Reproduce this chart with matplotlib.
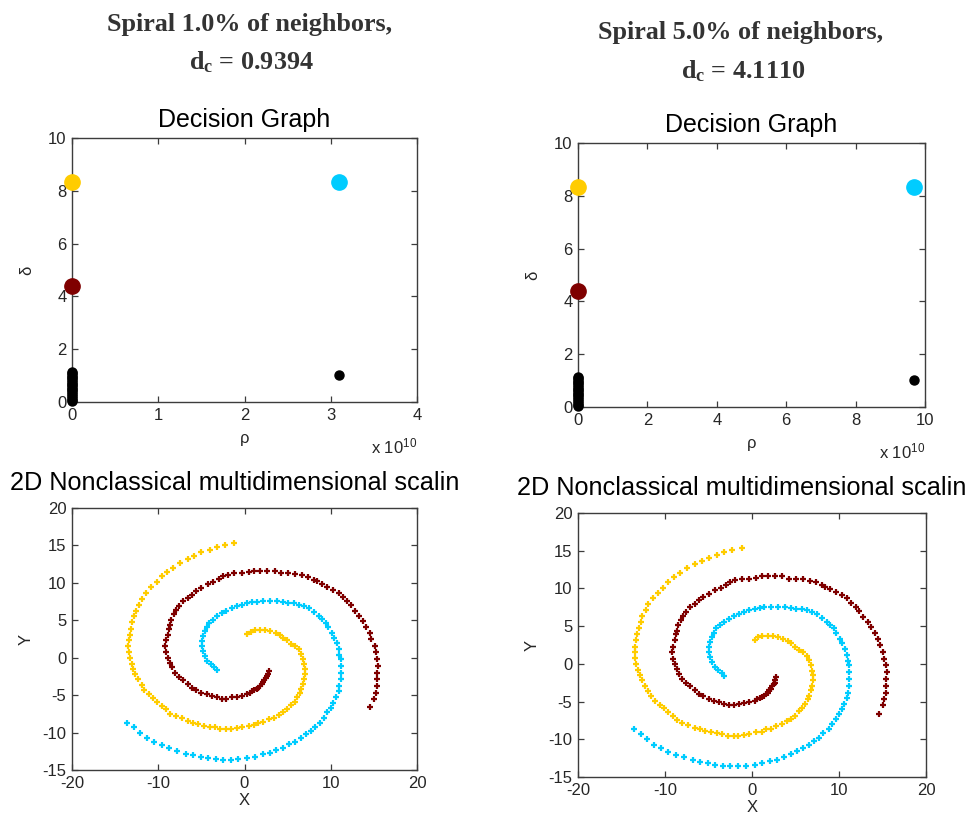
import matplotlib
matplotlib.use("Agg")
import matplotlib.pyplot as plt

plt.rcParams['mathtext.fontset'] = 'custom'
plt.rcParams['mathtext.bf'] = 'Liberation Serif:bold'
plt.rcParams['mathtext.rm'] = 'Liberation Sans'
plt.rcParams['mathtext.default'] = 'regular'
plt.rcParams['axes.unicode_minus'] = False

# colours of the three clusters
c_yellow = '#FFCC00'
c_cyan = '#00CCFF'
c_red = '#7F0000'

# decision graph: cluster centres (rho, delta)
rho_scale = 1e10
centre_delta = [8.35, 8.35, 4.40]              # yellow, cyan, maroon
centre_rho_1 = [0.0, 3.09e10, 0.0]
centre_rho_5 = [0.0, 9.68e10, 0.0]
centre_cols = [c_yellow, c_cyan, c_red]
# other points (black)
other_rho_1 = [0.0] * 18 + [3.09e10]
other_rho_5 = [0.0] * 18 + [9.68e10]
other_delta = [0.02, 0.08, 0.15, 0.21, 0.30, 0.36, 0.44, 0.50, 0.57,
               0.63, 0.70, 0.77, 0.83, 0.90, 0.96, 1.02, 1.08, 1.14, 1.04]

# spiral points
yellow_x = [-1.2, -2.3, -3.2, -4.0, -5.0, -5.8, -6.6, -7.5, -8.3, -9.0, -9.6, -10.2,
            -10.8, -11.4, -11.9, -12.2, -12.6, -12.8, -13.0, -13.2, -13.3, -13.4, -13.5,
            -13.4, -13.3, -13.1, -12.9, -12.7, -12.3, -11.9, -11.6, -11.1, -10.6, -10.1,
            -9.6, -9.1, -8.6, -8.0, -7.3, -6.6, -6.0, -5.4, -4.7, -4.0, -3.4, -2.8, -2.1,
            -1.6, -0.9, -0.3, 0.5, 1.1, 1.6, 2.2, 2.8, 3.4, 4.0, 4.5, 4.9, 5.4, 5.8, 6.1,
            6.4, 6.6, 6.8, 6.9, 7.0, 7.0, 6.9, 6.8, 6.6, 6.3, 5.9, 5.4, 4.9, 4.5, 4.1, 3.6,
            3.0, 2.4, 1.8, 1.2, 0.7, 0.3]
yellow_y = [15.3, 15.1, 14.8, 14.4, 14.1, 13.6, 13.2, 12.7, 12.0, 11.5, 10.9, 10.1,
            9.4, 8.7, 7.9, 7.1, 6.3, 5.6, 4.8, 3.9, 3.1, 2.3, 1.6,
            0.8, 0.0, -0.8, -1.5, -2.2, -2.9, -3.6, -4.3, -4.9, -5.4, -5.9,
            -6.4, -6.9, -7.5, -7.8, -8.1, -8.5, -8.7, -8.9, -9.1, -9.2, -9.3, -9.5, -9.5,
            -9.5, -9.4, -9.3, -9.1, -9.0, -8.7, -8.6, -8.2, -8.0, -7.6, -7.3, -6.9, -6.3,
            -5.9, -5.3, -4.7, -4.2, -3.5, -2.9, -2.2, -1.5, -0.9, -0.2, 0.5, 1.1, 1.6, 1.8,
            2.3, 2.7, 3.0, 3.3, 3.6, 3.7, 3.7, 3.7, 3.5, 3.2]

red_x = [14.6, 15.0, 15.2, 15.4, 15.4, 15.4, 15.5, 15.4, 15.2, 15.1, 14.7, 14.5, 14.1,
         13.7, 13.3, 12.8, 12.3, 11.9, 11.4, 10.9, 10.3, 9.6, 9.0, 8.4, 8.0, 7.4, 6.7,
         5.9, 5.1, 4.2, 3.5, 2.6, 1.8, 1.1, 0.5, -0.3, -1.2, -1.9, -2.5, -3.0, -3.6, -4.2,
         -5.0, -5.6, -6.1, -6.6, -7.1, -7.6, -7.9, -8.2, -8.5, -8.6, -8.7, -8.9, -9.1,
         -9.2, -9.1, -8.9, -8.6, -8.4, -8.1, -7.6, -7.1, -6.6, -6.1, -5.6, -5.0, -4.4,
         -3.8, -3.2, -2.6, -2.1, -1.5, -0.9, -0.3, 0.3, 0.6, 0.9, 1.1, 1.4, 1.6, 1.8, 2.0,
         2.2, 2.3, 2.5, 2.6, 2.7, 2.8]
red_y = [-6.6, -5.5, -4.7, -3.8, -2.9, -2.0, -1.1, -0.2, 0.7, 1.6, 2.5, 3.3, 4.1,
         4.9, 5.6, 6.2, 7.0, 7.6, 8.1, 8.7, 9.1, 9.5, 9.9, 10.2, 10.4, 10.8, 11.0,
         11.2, 11.3, 11.3, 11.6, 11.6, 11.6, 11.6, 11.4, 11.3, 11.3, 11.1, 10.9, 10.5,
         10.1, 9.8, 9.3, 8.9, 8.4, 8.0, 7.6, 6.9, 6.4, 5.8, 5.1, 4.4, 3.9, 3.1, 2.3,
         1.6, 0.7, 0.0, -0.7, -1.3, -2.0, -2.6, -3.0, -3.5, -4.0, -4.3, -4.7, -4.9,
         -5.1, -5.3, -5.5, -5.5, -5.3, -5.2, -5.1, -4.9, -4.7, -4.5, -4.35, -4.2, -4.0,
         -3.8, -3.5, -3.3, -3.0, -2.7, -2.5, -2.2, -1.8]

cyan_x = [-13.6, -12.8, -12.1, -11.3, -10.5, -9.6, -8.7, -7.8, -6.8, -6.0, -5.1, -4.2,
          -3.3, -2.5, -1.6, -0.7, 0.3, 1.2, 2.1, 2.9, 3.7, 4.5, 5.2, 5.9, 6.5, 7.1, 7.7,
          8.2, 8.8, 9.2, 9.6, 10.0, 10.3, 10.6, 10.9, 11.0, 11.2, 11.2, 11.2, 11.2, 11.0,
          10.9, 10.7, 10.4, 10.1, 9.7, 9.4, 9.0, 8.6, 8.1, 7.5, 6.9, 6.3, 5.7, 5.1, 4.5,
          3.8, 3.0, 2.2, 1.4, 0.9, 0.3, -0.3, -0.9, -1.5, -2.1, -2.6, -3.2, -3.7, -4.1,
          -4.4, -4.6, -4.8, -4.9, -4.9, -4.8, -4.6, -4.3, -3.9, -3.5, -3.2]
cyan_y = [-8.7, -9.3, -10.0, -10.7, -11.2, -11.7, -12.1, -12.4, -12.8, -13.0, -13.2, -13.4,
          -13.5, -13.6, -13.6, -13.5, -13.4, -13.2, -12.9, -12.7, -12.3, -12.0, -11.5,
          -11.2, -10.7, -10.2, -9.8, -9.2, -8.7, -8.0, -7.3, -6.7, -6.0, -5.3, -4.5, -3.8,
          -2.9, -2.0, -1.1, -0.2, 0.4, 1.2, 2.0, 2.7, 3.3, 4.1, 4.7, 5.2, 5.6, 6.1, 6.6,
          6.9, 7.1, 7.3, 7.3, 7.4, 7.6, 7.6, 7.6, 7.5, 7.4, 7.3, 7.1, 6.9, 6.6, 6.3, 6.0,
          5.6, 5.1, 4.7, 4.1, 3.6, 2.9, 2.2, 1.6, 0.9, 0.2, -0.4, -0.8, -1.2, -1.6]

W, H = 973, 819
fig = plt.figure(figsize=(W / 100, H / 100), dpi=100)

sans = 'Liberation Sans'
tick_col = '#262626'
edge_col = '#3c3c3c'


def box(l, r, t, b):
    return [l / W, 1 - b / H, (r - l) / W, (b - t) / H]


def style(ax):
    for s in ax.spines.values():
        s.set_color(edge_col)
        s.set_linewidth(1.0)
    ax.tick_params(direction='in', top=True, right=True, length=4, width=0.9,
                   color=edge_col, labelsize=12, labelcolor=tick_col, pad=4)
    for lab in ax.get_xticklabels() + ax.get_yticklabels():
        lab.set_fontfamily(sans)


def decision(ax, rho_c, rho_o, xmax, xticks):
    ax.plot(rho_o, other_delta, 'o', color='black', ms=6.5, mec='black', ls='none',
            clip_on=False, zorder=3)
    for r, d, c in zip(rho_c, centre_delta, centre_cols):
        ax.plot(r, d, 'o', color=c, mec=c, ms=11, clip_on=False, zorder=3)
    ax.set_xlim(0, xmax)
    ax.set_ylim(0, 10)
    ax.set_xticks([v * rho_scale for v in xticks])
    ax.set_xticklabels([str(v) for v in xticks])
    ax.set_yticks([0, 2, 4, 6, 8, 10])
    ax.set_xlabel('ρ', fontsize=12, family=sans, color=tick_col, labelpad=6)
    ax.set_ylabel('δ', fontsize=12, family=sans, color=tick_col, labelpad=10)
    ax.text(1.0, -0.17, r'x 10$^{10}$', transform=ax.transAxes, ha='right',
            va='center', fontsize=12, family=sans, color=tick_col)
    ax.set_title('Decision Graph', fontsize=18, family=sans, pad=8)
    style(ax)


def mds(ax):
    for xs, ys, c in [(yellow_x, yellow_y, c_yellow), (red_x, red_y, c_red),
                      (cyan_x, cyan_y, c_cyan)]:
        ax.plot(xs, ys, '+', color=c, mec=c, ms=4.5, mew=1.6, ls='none')
    ax.set_xlim(-20, 20)
    ax.set_ylim(-15, 20)
    ax.set_xticks([-20, -10, 0, 10, 20])
    ax.set_yticks([-15, -10, -5, 0, 5, 10, 15, 20])
    ax.set_xlabel('X', fontsize=12, family=sans, color=tick_col, labelpad=2)
    ax.set_ylabel('Y', fontsize=12, family=sans, color=tick_col, labelpad=6)
    style(ax)


ax1 = fig.add_axes(box(72, 417, 138, 402))
decision(ax1, centre_rho_1, other_rho_1, 4e10, [0, 1, 2, 3, 4])
ax2 = fig.add_axes(box(578, 925, 143, 407))
decision(ax2, centre_rho_5, other_rho_5, 10e10, [0, 2, 4, 6, 8, 10])
ax3 = fig.add_axes(box(72, 417, 508, 770))
mds(ax3)
ax4 = fig.add_axes(box(578, 926, 513, 777))
mds(ax4)

mds_title = '2D Nonclassical multidimensional scalin'
fig.text(235 / W, 1 - 483 / H, mds_title, ha='center', va='center',
         fontsize=18.2, family=sans)
fig.text(517 / W, 1 - 488 / H, mds_title, ha='left', va='center',
         fontsize=18.2, family=sans)

serif = 'Liberation Serif'
head_col = '#333333'
head_size = 18.8
fig.text(250 / W, 1 - 25 / H, 'Spiral 1.0% of neighbors,', ha='center', va='center',
         fontsize=head_size, family=serif, weight='bold', color=head_col)
fig.text(251 / W, 1 - 62 / H, r'$\mathbf{d_c}$ = 0.9394', ha='center', va='center',
         fontsize=head_size, family=serif, weight='bold', color=head_col)
fig.text(741 / W, 1 - 33 / H, 'Spiral 5.0% of neighbors,', ha='center', va='center',
         fontsize=head_size, family=serif, weight='bold', color=head_col)
fig.text(743 / W, 1 - 71 / H, r'$\mathbf{d_c}$ = 4.1110', ha='center', va='center',
         fontsize=head_size, family=serif, weight='bold', color=head_col)

fig.savefig('out.png', dpi=100)
